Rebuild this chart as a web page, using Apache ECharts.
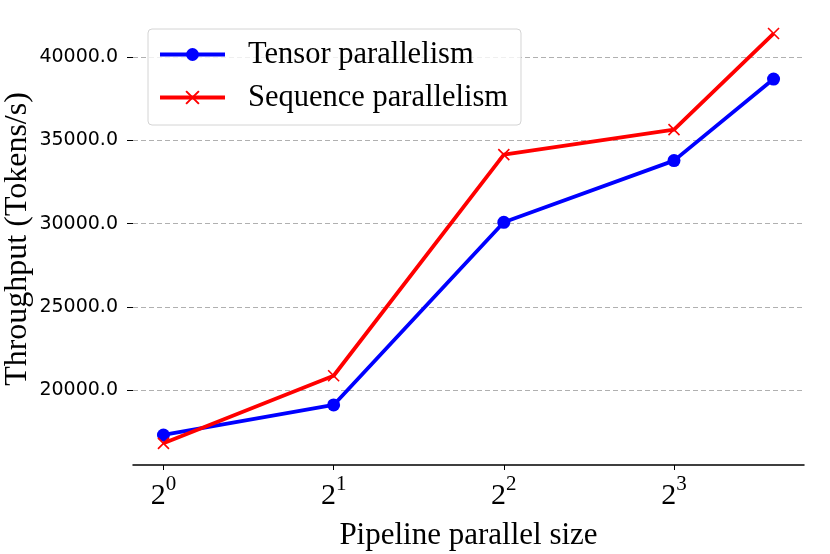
<!DOCTYPE html>
<html>
<head>
    <meta charset="utf-8">
    <title>Pipeline parallel throughput</title>
    <script src="https://cdn.jsdelivr.net/npm/echarts@6/dist/echarts.min.js"></script>
</head>
<body style="margin:0;background:#fff;">
<div id="main" style="width: 830px;height:554px;"></div>
<script type="text/javascript">
    // data
    const pipelineSizes = [1, 2, 4, 8, 12];
    const tensorThroughput = [17330, 19130, 30080, 33780, 38670];
    const sequenceThroughput = [16830, 20880, 34140, 35640, 41400];
    const xTickValues = [1, 2, 4, 8];
    const yTickValues = [20000, 25000, 30000, 35000, 40000];
    const seriesNames = ['Tensor parallelism', 'Sequence parallelism'];

    const serif = '"Liberation Serif", "Times New Roman", serif';

    const myChart = echarts.init(document.getElementById('main'));

    function toPoints(values) {
        return pipelineSizes.map(function (x, i) {
            return [x, values[i]];
        });
    }

    const option = {
        animation: false,
        backgroundColor: '#fff',
        grid: {
            left: 133,
            right: 26,
            top: 13,
            bottom: 89,
            outerBoundsMode: 'none'
        },
        legend: {
            orient: 'vertical',
            left: 148,
            top: 29,
            padding: [10, 13, 12, 10],
            itemGap: 12,
            itemWidth: 65,
            itemHeight: 16,
            borderColor: '#d4d4d4',
            borderWidth: 1,
            borderRadius: 4,
            backgroundColor: 'rgba(255,255,255,0.8)',
            data: seriesNames,
            lineStyle: {width: 4},
            textStyle: {
                fontFamily: serif,
                fontSize: 30.5,
                color: '#000',
                padding: [0, 0, 0, 18]
            }
        },
        xAxis: {
            type: 'log',
            logBase: 2,
            min: 0.8833,
            max: 13.585,
            name: 'Pipeline parallel size',
            nameLocation: 'middle',
            nameGap: 55,
            nameMoveOverlap: false,
            nameTextStyle: {
                fontFamily: serif,
                fontSize: 31,
                color: '#000'
            },
            axisLine: {
                lineStyle: {color: '#000', width: 1.5}
            },
            axisTick: {
                customValues: xTickValues,
                length: 5,
                lineStyle: {color: '#000', width: 1}
            },
            axisLabel: {
                customValues: xTickValues,
                margin: 9,
                formatter: function (v) {
                    return '{b|2}{s|' + Math.round(Math.log2(v)) + '}';
                },
                rich: {
                    b: {fontFamily: serif, fontSize: 30, lineHeight: 45, color: '#000'},
                    s: {fontFamily: serif, fontSize: 21, lineHeight: 15, verticalAlign: 'top', color: '#000'}
                }
            },
            splitLine: {show: false}
        },
        yAxis: {
            type: 'value',
            min: 15530,
            max: 42630,
            name: 'Throughput (Tokens/s)',
            nameLocation: 'middle',
            nameRotate: 90,
            nameGap: 99,
            nameMoveOverlap: false,
            nameTextStyle: {
                fontFamily: serif,
                fontSize: 32,
                color: '#000'
            },
            axisLine: {show: false},
            axisTick: {
                show: true,
                customValues: yTickValues,
                length: 6,
                lineStyle: {color: '#000', width: 1}
            },
            axisLabel: {
                customValues: yTickValues,
                margin: 15,
                fontFamily: '"DejaVu Sans", sans-serif',
                fontSize: 19,
                color: '#000',
                formatter: function (v) {
                    return v.toFixed(1);
                }
            },
            splitLine: {
                show: true,
                lineStyle: {color: '#b0b0b0', type: [5, 3], width: 1}
            }
        },
        series: [
            {
                name: seriesNames[0],
                type: 'line',
                data: toPoints(tensorThroughput),
                symbol: 'circle',
                symbolSize: 13,
                lineStyle: {color: '#0000ff', width: 3.8},
                itemStyle: {color: '#0000ff'}
            },
            {
                name: seriesNames[1],
                type: 'line',
                data: toPoints(sequenceThroughput),
                symbol: 'path://M0,0L10,10M10,0L0,10',
                symbolSize: 11,
                lineStyle: {color: '#ff0000', width: 3.8},
                itemStyle: {color: '#ff0000', borderColor: '#ff0000', borderWidth: 1.6}
            }
        ]
    };
    myChart.setOption(option);
</script>
</body>
</html>
